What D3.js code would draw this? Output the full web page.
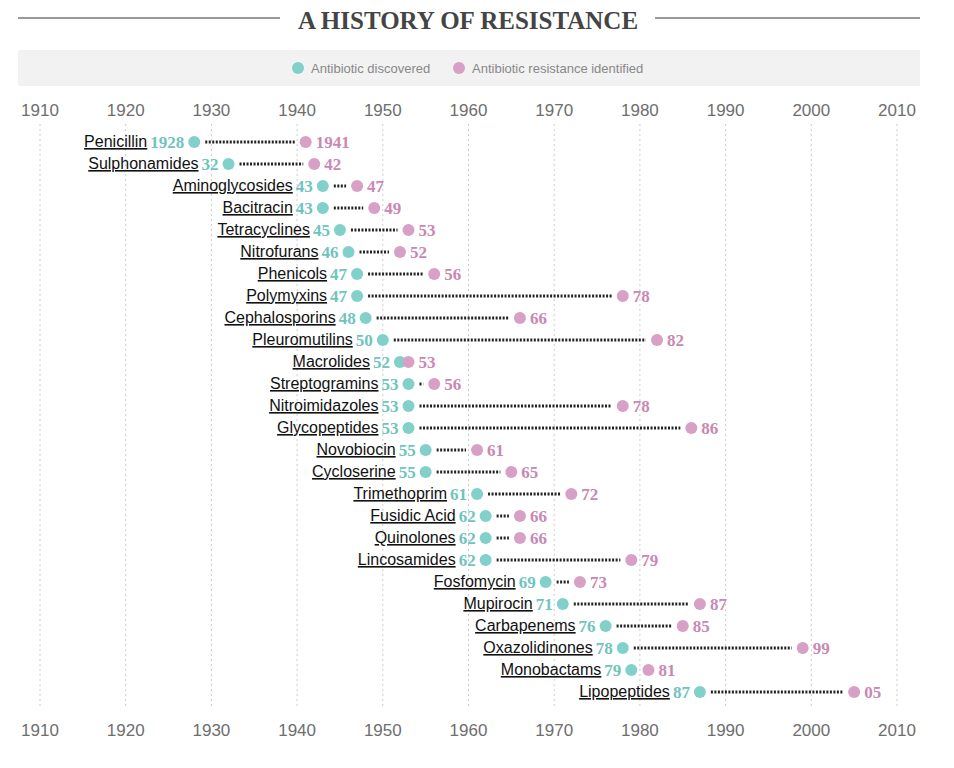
<!DOCTYPE html><html><head><meta charset="utf-8">
<script src="https://cdn.jsdelivr.net/npm/d3@7"></script>
<style>body{margin:0;background:#fff}</style></head><body>
<svg id="c" width="954" height="768"></svg>
<script>
const names=["Penicillin","Sulphonamides","Aminoglycosides","Bacitracin","Tetracyclines","Nitrofurans","Phenicols","Polymyxins","Cephalosporins","Pleuromutilins","Macrolides","Streptogramins","Nitroimidazoles","Glycopeptides","Novobiocin","Cycloserine","Trimethoprim","Fusidic Acid","Quinolones","Lincosamides","Fosfomycin","Mupirocin","Carbapenems","Oxazolidinones","Monobactams","Lipopeptides"];
const discovered=[1928,1932,1943,1943,1945,1946,1947,1947,1948,1950,1952,1953,1953,1953,1955,1955,1961,1962,1962,1962,1969,1971,1976,1978,1979,1987];
const resistance=[1941,1942,1947,1949,1953,1952,1956,1978,1966,1982,1953,1956,1978,1986,1961,1965,1972,1966,1966,1979,1973,1987,1985,1999,1981,2005];
const ticks=[1910,1920,1930,1940,1950,1960,1970,1980,1990,2000,2010];
const teal="#82d0ca",pink="#d7a0c4",tealT="#6fc4bd",pinkT="#c988b3";
const svg=d3.select("#c");
const x=d3.scaleLinear().domain([1910,2010]).range([40,897]);
const y=d3.scaleBand().domain(names).range([131,703]);
const cy=n=>y(n)+y.bandwidth()/2;
svg.append("line").attr("x1",18).attr("x2",280).attr("y1",18).attr("y2",18).attr("stroke","#333");
svg.append("line").attr("x1",655).attr("x2",920).attr("y1",18).attr("y2",18).attr("stroke","#333");
svg.append("text").attr("x",468).attr("y",29).attr("text-anchor","middle").attr("font-family","Liberation Serif").attr("font-weight","bold").attr("font-size",25).attr("fill","#444").text("A HISTORY OF RESISTANCE");
svg.append("rect").attr("x",18).attr("y",50).attr("width",902).attr("height",36).attr("fill","#f2f2f2");
const lg=[["Antibiotic discovered",teal,298],["Antibiotic resistance identified",pink,459]];
lg.forEach(([t,c,lx])=>{svg.append("circle").attr("cx",lx).attr("cy",68).attr("r",6).attr("fill",c);
svg.append("text").attr("x",lx+13).attr("y",72.5).attr("font-family","Liberation Sans").attr("font-size",13).attr("fill","#888").text(t);});
[110,730].forEach(ty=>{svg.append("g").selectAll("text").data(ticks).join("text").attr("x",d=>x(d)).attr("y",ty+6).attr("text-anchor","middle").attr("font-family","Liberation Sans").attr("font-size",17).attr("fill","#6e6e6e").text(d=>d);});
svg.append("g").selectAll("line").data(ticks).join("line").attr("x1",d=>x(d)).attr("x2",d=>x(d)).attr("y1",124).attr("y2",708).attr("stroke","#ccc").attr("stroke-dasharray","2,3");
const rows=svg.append("g").selectAll("g").data(names).join("g");
rows.append("line").attr("x1",(d,i)=>x(discovered[i])+11).attr("x2",(d,i)=>x(resistance[i])-11).attr("y1",d=>cy(d)).attr("y2",d=>cy(d))
 .attr("stroke","#222").attr("stroke-width",3).attr("stroke-dasharray","2,1.5").attr("display",(d,i)=>x(resistance[i])-x(discovered[i])>22?null:"none");
rows.append("circle").attr("cx",(d,i)=>x(discovered[i])).attr("cy",d=>cy(d)).attr("r",6).attr("fill",teal);
rows.append("circle").attr("cx",(d,i)=>x(resistance[i])).attr("cy",d=>cy(d)).attr("r",6).attr("fill",pink);
const lbl=(v,i)=>i===0?String(v):String(v%100).padStart(2,"0");
rows.append("text").attr("x",(d,i)=>x(discovered[i])-10).attr("y",d=>cy(d)+5.5).attr("text-anchor","end").attr("font-family","Liberation Serif").attr("font-weight","bold").attr("font-size",17).attr("fill",tealT).text((d,i)=>lbl(discovered[i],i))
 .each(function(d,i){const bb=this.getBBox();d3.select(this.parentNode).append("text").attr("x",bb.x-3).attr("y",cy(d)+5).attr("text-anchor","end").attr("font-family","Liberation Sans").attr("font-size",16).attr("fill","#111").attr("text-decoration","underline").text(d);});
rows.append("text").attr("x",(d,i)=>x(resistance[i])+10).attr("y",d=>cy(d)+5.5).attr("font-family","Liberation Serif").attr("font-weight","bold").attr("font-size",17).attr("fill",pinkT).text((d,i)=>lbl(resistance[i],i));
</script></body></html>
